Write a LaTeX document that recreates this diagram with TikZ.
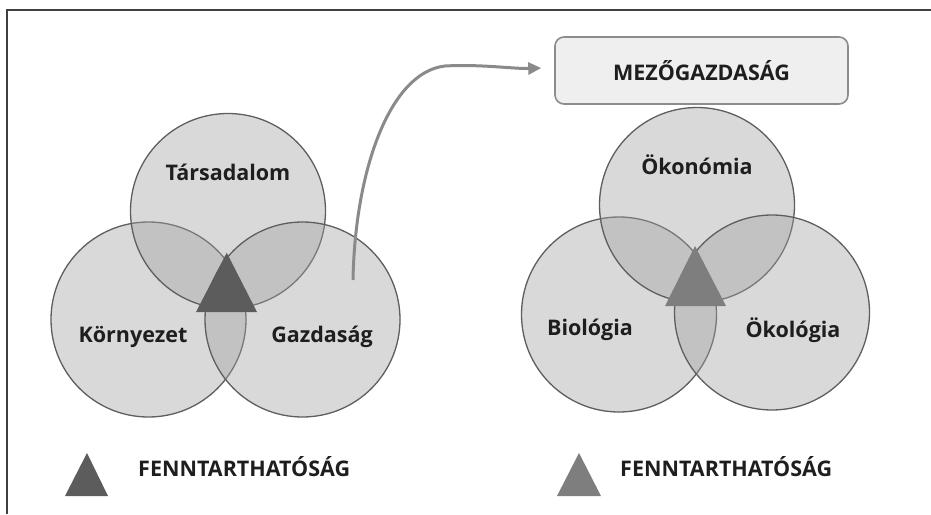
\documentclass[tikz,border=0pt]{standalone}
\usepackage{fontspec}
\setmainfont{Open Sans}
\usetikzlibrary{arrows.meta}
\definecolor{circfill}{HTML}{A0A0A0}
\definecolor{circline}{HTML}{5E5E5E}
\definecolor{txt}{HTML}{1E1E1E}
\definecolor{framecol}{HTML}{404040}
\definecolor{darktri}{HTML}{5C5C5C}
\definecolor{lighttri}{HTML}{7E7E7E}
\definecolor{arrowcol}{HTML}{8A8A8A}
\definecolor{boxfill}{HTML}{EFEFEF}
\definecolor{boxline}{HTML}{8C8C8C}
\begin{document}
\begin{tikzpicture}[x=1pt,y=-1pt,
  venn/.style={circle, minimum size=195pt, inner sep=0pt, fill=circfill, fill opacity=0.4, draw=circline, draw opacity=1, line width=1.3pt},
  lbl/.style={font=\bfseries\fontsize{21.5}{21.5}\selectfont, text=txt, inner sep=0pt},
  boxstyle/.style={rectangle, rounded corners=9pt, minimum width=293pt, minimum height=67pt, fill=boxfill, draw=boxline, line width=1.6pt, font=\bfseries\fontsize{21.5}{21.5}\selectfont, text=txt},
  arrowstyle/.style={draw=arrowcol, line width=3pt, -{Triangle[length=13pt,width=12pt]}},
]
\useasboundingbox[fill=white] (0,0) rectangle (931,514);
% frame
\draw[framecol, line width=2pt] (7,514) -- (7,10) -- (931,10);

% left Venn
\node[venn] (kor) at (148.5,319.5) {};
\node[venn] (tar) at (228,211) {};
\node[venn] (gaz) at (302.5,319.5) {};
\fill[darktri] (226.7,252.7) -- (196,312) -- (257,312) -- cycle;
\node[lbl] (ltar) at (228,172) {Társadalom};
\node[lbl] (lkor) at (133,337) {Környezet};
\node[lbl] (lgaz) at (322,337) {Gazdaság};

% right Venn
\node[venn] (bio) at (619,314.5) {};
\node[venn] (oko) at (697,205) {};
\node[venn] (okl) at (772,312.5) {};
\fill[lighttri] (695,246) -- (665,306) -- (726,306) -- cycle;
\node[lbl] (loko) at (697,165) {Ökonómia};
\node[lbl] (lbio) at (590,330) {Biológia};
\node[lbl] (lokl) at (793,330) {Ökológia};

% box
\node[boxstyle] (mez) at (701.5,70.5) {MEZŐGAZDASÁG};

% arrow
\coordinate (as) at (353,280);
\coordinate (ae) at ([xshift=-13pt,yshift=2.5pt]mez.west);
\draw[arrowstyle] (as) .. controls (355,170) and (390,72) .. (445,66) .. controls (480,64) and (515,69) .. (ae);

% legend
\fill[darktri] (87,453) -- (65,496) -- (108,496) -- cycle;
\node[lbl, anchor=west] (leg1) at (138,467) {FENNTARTHATÓSÁG};
\fill[lighttri] (579,453) -- (557,496) -- (601,496) -- cycle;
\node[lbl, anchor=west] (leg2) at (620,467) {FENNTARTHATÓSÁG};
\end{tikzpicture}
\end{document}
